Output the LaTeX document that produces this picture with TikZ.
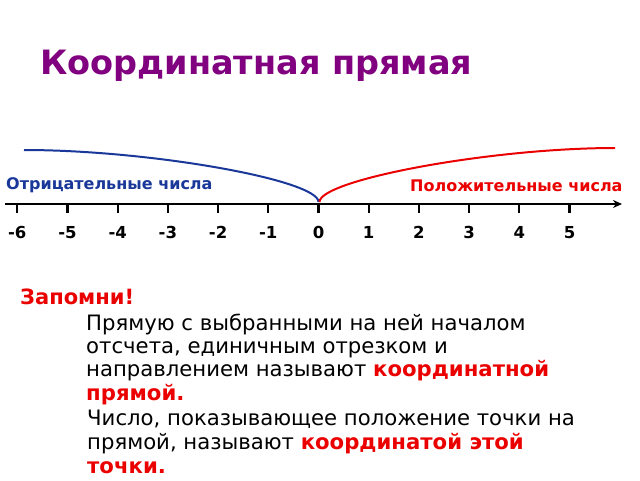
\documentclass[tikz,border=0pt]{standalone}
\usepackage{fontspec}
\setmainfont{DejaVu Sans}
\usepackage{xcolor}
\definecolor{titlepurple}{rgb}{0.50, 0.0, 0.50}
\definecolor{negblue}{rgb}{0.10, 0.22, 0.60}
\definecolor{posred}{rgb}{0.92, 0.0, 0.0}
\RequirePackage{tikz}
\usetikzlibrary{positioning,calc,arrows.meta}

\tikzset{
  txt/.style={anchor=base west, inner sep=0pt},
  ticklabel/.style={anchor=base, inner sep=0pt, font=\fontsize{16.5}{18}\selectfont\bfseries},
  branch/.style={line width=0.7mm}
}

\begin{document}
\begin{tikzpicture}[x=1pt, y=-1pt]
				\useasboundingbox[fill=white] (0,0) rectangle (640,480);
				% title
				\node[txt, text=titlepurple, font=\fontsize{33.5}{38}\selectfont\bfseries] (title) at (40,74) {Координатная прямая};
				% axis with ticks
				\coordinate (axstart) at (5,204);
				\coordinate (axend) at (622,204);
				\draw[line width=0.9mm, -{Stealth[length=9pt, width=8pt]}] (axstart) -- (axend);
				\foreach \n [count=\i from 0] in {-6,-5,-4,-3,-2,-1,0,1,2,3,4,5} {
					\coordinate (t\i) at (17.3+50.2*\i,204);
					\draw[line width=0.8mm] (t\i) -- ++(0,9);
					\node[ticklabel] (lbl\i) at (17.3+50.2*\i,238) {\n};
				}
				% branches
				\coordinate (bl) at (24,150);
				\coordinate (br) at (615,148);
				\draw[branch, negblue] (bl) .. controls (150,150) and (t6|-0,180) .. ($(t6)+(0,-2)$);
				\draw[branch, posred] ($(t6)+(1,-2)$) .. controls ($(t6)+(1,-24)$) and (490,148) .. (br);
				\node[txt, text=negblue, font=\fontsize{16}{18}\selectfont\bfseries] (neg) at (6,189) {Отрицательные числа};
				\node[txt, text=posred, font=\fontsize{16}{18}\selectfont\bfseries] (pos) at (410,191) {Положительные числа};
				% remember
				\node[txt, text=posred, font=\fontsize{21}{24}\selectfont\bfseries] (mem) at (20,304) {Запомни!};
				\node[txt, align=left, font=\fontsize{21.2}{23.2}\selectfont] (def1) at (86,400) {Прямую с выбранными на ней началом\\отсчета, единичным отрезком и\\направлением называют \textcolor{posred}{\textbf{координатной}}\\\textcolor{posred}{\textbf{прямой.}}};
				\node[txt, align=left, font=\fontsize{21.2}{24}\selectfont] (def2) at (87,473) {Число, показывающее положение точки на\\прямой, называют \textcolor{posred}{\textbf{координатой этой}}\\\textcolor{posred}{\textbf{точки.}}};
			\end{tikzpicture}
\end{document}
